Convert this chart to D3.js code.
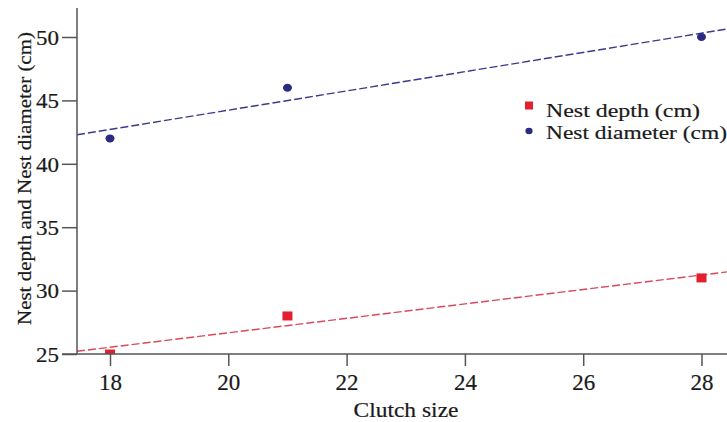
<!DOCTYPE html>
<html><head><meta charset="utf-8">
<script src="https://cdn.jsdelivr.net/npm/d3@7"></script>
<style>
html,body{margin:0;padding:0;background:#fff;}
svg{display:block;font-family:"Liberation Serif","Times New Roman",serif;}
svg text{stroke:#1a1a1a;stroke-width:0.2px;}
</style></head>
<body><svg id="c" width="727" height="422"></svg>
<script>
const clutchSize = [18, 21, 28];
const nestDepth = [25, 28, 31];
const nestDiameter = [42, 46, 50];
const xTicks = [18, 20, 22, 24, 26, 28];
const yTicks = [25, 30, 35, 40, 45, 50];
const seriesNames = ["Nest depth (cm)", "Nest diameter (cm)"];

const FONT = "Liberation Serif, Times New Roman, serif";
const svg = d3.select("#c");
const x = d3.scaleLinear().domain([18, 28]).range([110, 701.5]);
const y = d3.scaleLinear().domain([25, 50]).range([354, 37]);
const xMin = x.invert(77), xMax = x.invert(727);
const yMax = y.invert(8);

function fit(xs, ys) {
  const mx = d3.mean(xs), my = d3.mean(ys);
  let sxy = 0, sxx = 0;
  xs.forEach((v, i) => { sxy += (v - mx) * (ys[i] - my); sxx += (v - mx) * (v - mx); });
  const b = sxy / sxx; return v => my + b * (v - mx);
}

svg.append("defs").append("clipPath").attr("id", "plot")
  .append("rect").attr("x", 77).attr("y", 0).attr("width", 650).attr("height", 354);

const axisColor = "#555";
const txt = "#1a1a1a";
// x axis
const gx = svg.append("g").attr("transform", "translate(0,354)")
  .call(d3.axisBottom(x).tickValues(xTicks).tickSize(12).tickSizeOuter(0).tickPadding(8));
gx.select(".domain").remove();
gx.selectAll(".tick line").attr("stroke", axisColor).attr("stroke-width", 1.5);
gx.selectAll(".tick text").attr("fill", txt).attr("font-size", 23).attr("dy", null).attr("y", 36)
  .attr("font-family", FONT);

// y axis
const gy = svg.append("g").attr("transform", "translate(77,0)")
  .call(d3.axisLeft(y).tickValues(yTicks).tickSize(15).tickSizeOuter(0).tickPadding(3));
gy.select(".domain").remove();
gy.selectAll(".tick line").attr("stroke", axisColor).attr("stroke-width", 1.5);
gy.selectAll(".tick text").attr("fill", txt).attr("font-size", 20).attr("font-family", FONT)
  .attr("dy", "0.36em").attr("textLength", 23).attr("lengthAdjust", "spacingAndGlyphs");

// fit lines
const fD = fit(clutchSize, nestDepth), fR = fit(clutchSize, nestDiameter);
const line = d3.line().x(d => x(d[0])).y(d => y(d[1]));
const plot = svg.append("g").attr("clip-path", "url(#plot)");
plot.append("path").attr("d", line([[xMin, fD(xMin)], [xMax, fD(xMax)]]))
  .attr("stroke", "#d9495a").attr("stroke-width", 1.4).attr("stroke-dasharray", "8,3").attr("fill", "none");
plot.append("path").attr("d", line([[xMin, fR(xMin)], [xMax, fR(xMax)]]))
  .attr("stroke", "#3a3a8c").attr("stroke-width", 1.4).attr("stroke-dasharray", "8,3").attr("fill", "none");

// points
plot.selectAll("rect.pt").data(clutchSize).join("rect").attr("class", "pt")
  .attr("x", (d) => x(d) - 5).attr("y", (d, i) => y(nestDepth[i]) - 4.5)
  .attr("width", 10).attr("height", 9).attr("fill", "#e3202f");
plot.selectAll("ellipse.pt").data(clutchSize).join("ellipse").attr("class", "pt")
  .attr("cx", d => x(d)).attr("cy", (d, i) => y(nestDiameter[i]))
  .attr("rx", 4.5).attr("ry", 4).attr("fill", "#2b2b83");

// axis lines on top
svg.append("line").attr("x1", 62).attr("x2", 727).attr("y1", 354).attr("y2", 354)
  .attr("stroke", axisColor).attr("stroke-width", 1.5);
svg.append("line").attr("x1", 77).attr("x2", 77).attr("y1", y(yMax)).attr("y2", 354)
  .attr("stroke", axisColor).attr("stroke-width", 1.5);

// legend
svg.append("rect").attr("x", 525).attr("y", 101.5).attr("width", 8).attr("height", 8).attr("fill", "#e3202f");
svg.append("ellipse").attr("cx", 529).attr("cy", 131).attr("rx", 3.6).attr("ry", 3.3).attr("fill", "#2b2b83");
svg.append("text").attr("x", 546).attr("y", 116.5).attr("font-size", 19.5).attr("fill", txt)
  .attr("textLength", 154).attr("lengthAdjust", "spacingAndGlyphs").text(seriesNames[0]);
svg.append("text").attr("x", 546).attr("y", 138.5).attr("font-size", 19.5).attr("fill", txt)
  .attr("textLength", 181).attr("lengthAdjust", "spacingAndGlyphs").text(seriesNames[1]);

// titles
svg.append("text").attr("x", 406).attr("y", 417).attr("text-anchor", "middle").attr("font-size", 21)
  .attr("fill", txt).attr("textLength", 105).attr("lengthAdjust", "spacingAndGlyphs").text("Clutch size");
svg.append("text").attr("transform", "translate(31,178.5) rotate(-90)").attr("text-anchor", "middle")
  .attr("font-size", 19).attr("fill", txt).attr("textLength", 293).attr("lengthAdjust", "spacingAndGlyphs")
  .text("Nest depth and Nest diameter (cm)");
</script></body></html>
